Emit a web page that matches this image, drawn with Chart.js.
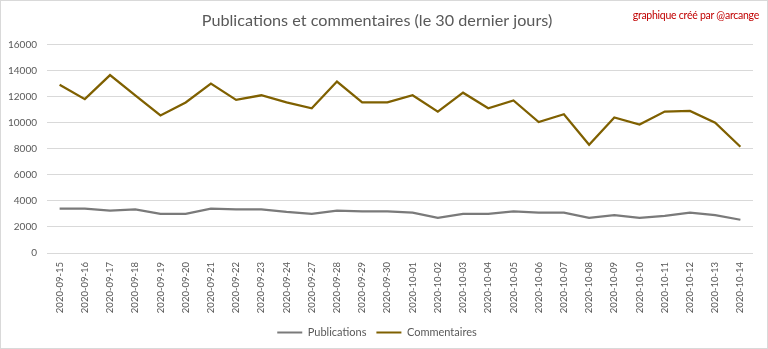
<!DOCTYPE html>
<html><head><meta charset="utf-8">
<script src="https://cdn.jsdelivr.net/npm/chart.js@4/dist/chart.umd.min.js"></script>
<style>
html,body{margin:0;padding:0;background:#fff;}
#wrap{position:absolute;left:0;top:0;width:768px;height:349px;box-sizing:border-box;border:1px solid #d9d9d9;background:#fff;}
#c{display:block;}
#credit{position:absolute;right:8px;top:8px;font-family:Lato,"Open Sans",sans-serif;font-size:10.5px;letter-spacing:-0.25px;color:#c00000;white-space:nowrap;}
</style></head><body>
<div id="wrap"><canvas id="c" width="766" height="347"></canvas><div id="credit">graphique créé par @arcange</div></div>
<script>
const dates = ["2020-09-15","2020-09-16","2020-09-17","2020-09-18","2020-09-19","2020-09-20","2020-09-21","2020-09-22","2020-09-23","2020-09-24","2020-09-27","2020-09-28","2020-09-29","2020-09-30","2020-10-01","2020-10-02","2020-10-03","2020-10-04","2020-10-05","2020-10-06","2020-10-07","2020-10-08","2020-10-09","2020-10-10","2020-10-11","2020-10-12","2020-10-13","2020-10-14"];
const publications = [3400,3400,3250,3350,3000,3000,3400,3350,3350,3150,3000,3250,3200,3200,3100,2700,3000,3000,3200,3100,3100,2700,2900,2700,2850,3100,2900,2550];
const commentaires = [12900,11800,13650,12100,10550,11550,13000,11750,12100,11550,11100,13150,11550,11550,12100,10850,12300,11100,11700,10050,10650,8300,10400,9850,10850,10900,10000,8150];
const titleText = "Publications et commentaires (le 30 dernier jours)";
const yMin = 0, yMax = 16000, yStep = 2000;

const FONT = "Lato, 'Open Sans', sans-serif";
const TXT = "#595959";

new Chart(document.getElementById('c'), {
  type: 'line',
  data: {
    labels: dates,
    datasets: [
      {label: 'Publications', data: publications, borderColor: '#7a7a7a', backgroundColor: '#7a7a7a', borderWidth: 2.25, pointRadius: 0, tension: 0},
      {label: 'Commentaires', data: commentaires, borderColor: '#7f6000', backgroundColor: '#7f6000', borderWidth: 2.25, pointRadius: 0, tension: 0}
    ]
  },
  options: {
    responsive: false,
    animation: false,
    layout: {padding: {left: 0, right: 14, top: 0, bottom: 0}},
    plugins: {
      title: {display: true, text: titleText, color: TXT, font: {family: FONT, size: 16.2, weight: 'normal'}, padding: {top: 10, bottom: 14}},
      legend: {
        position: 'bottom',
        labels: {color: TXT, font: {family: FONT, size: 11}, boxWidth: 25, boxHeight: 2, padding: 10,
          generateLabels: (chart) => chart.data.datasets.map((d, i) => ({text: d.label, fillStyle: d.borderColor, strokeStyle: d.borderColor, lineWidth: 0, hidden: false, datasetIndex: i, fontColor: TXT}))
        }
      },
      tooltip: {enabled: false}
    },
    scales: {
      x: {
        offset: true,
        grid: {display: false, drawTicks: false},
        border: {display: false},
        ticks: {color: TXT, font: {family: FONT, size: 9.5}, minRotation: 90, maxRotation: 90, padding: 9, autoSkip: false},
        afterFit: (s) => { s.height = 64; }
      },
      y: {
        min: yMin, max: yMax,
        grid: {color: '#d9d9d9', lineWidth: 1, drawTicks: false},
        border: {display: false},
        ticks: {stepSize: yStep, color: TXT, font: {family: FONT, size: 10}, padding: 10, callback: (v) => String(v)},
        afterFit: (s) => { s.width = 46; }
      }
    }
  }
});
</script>
</body></html>
